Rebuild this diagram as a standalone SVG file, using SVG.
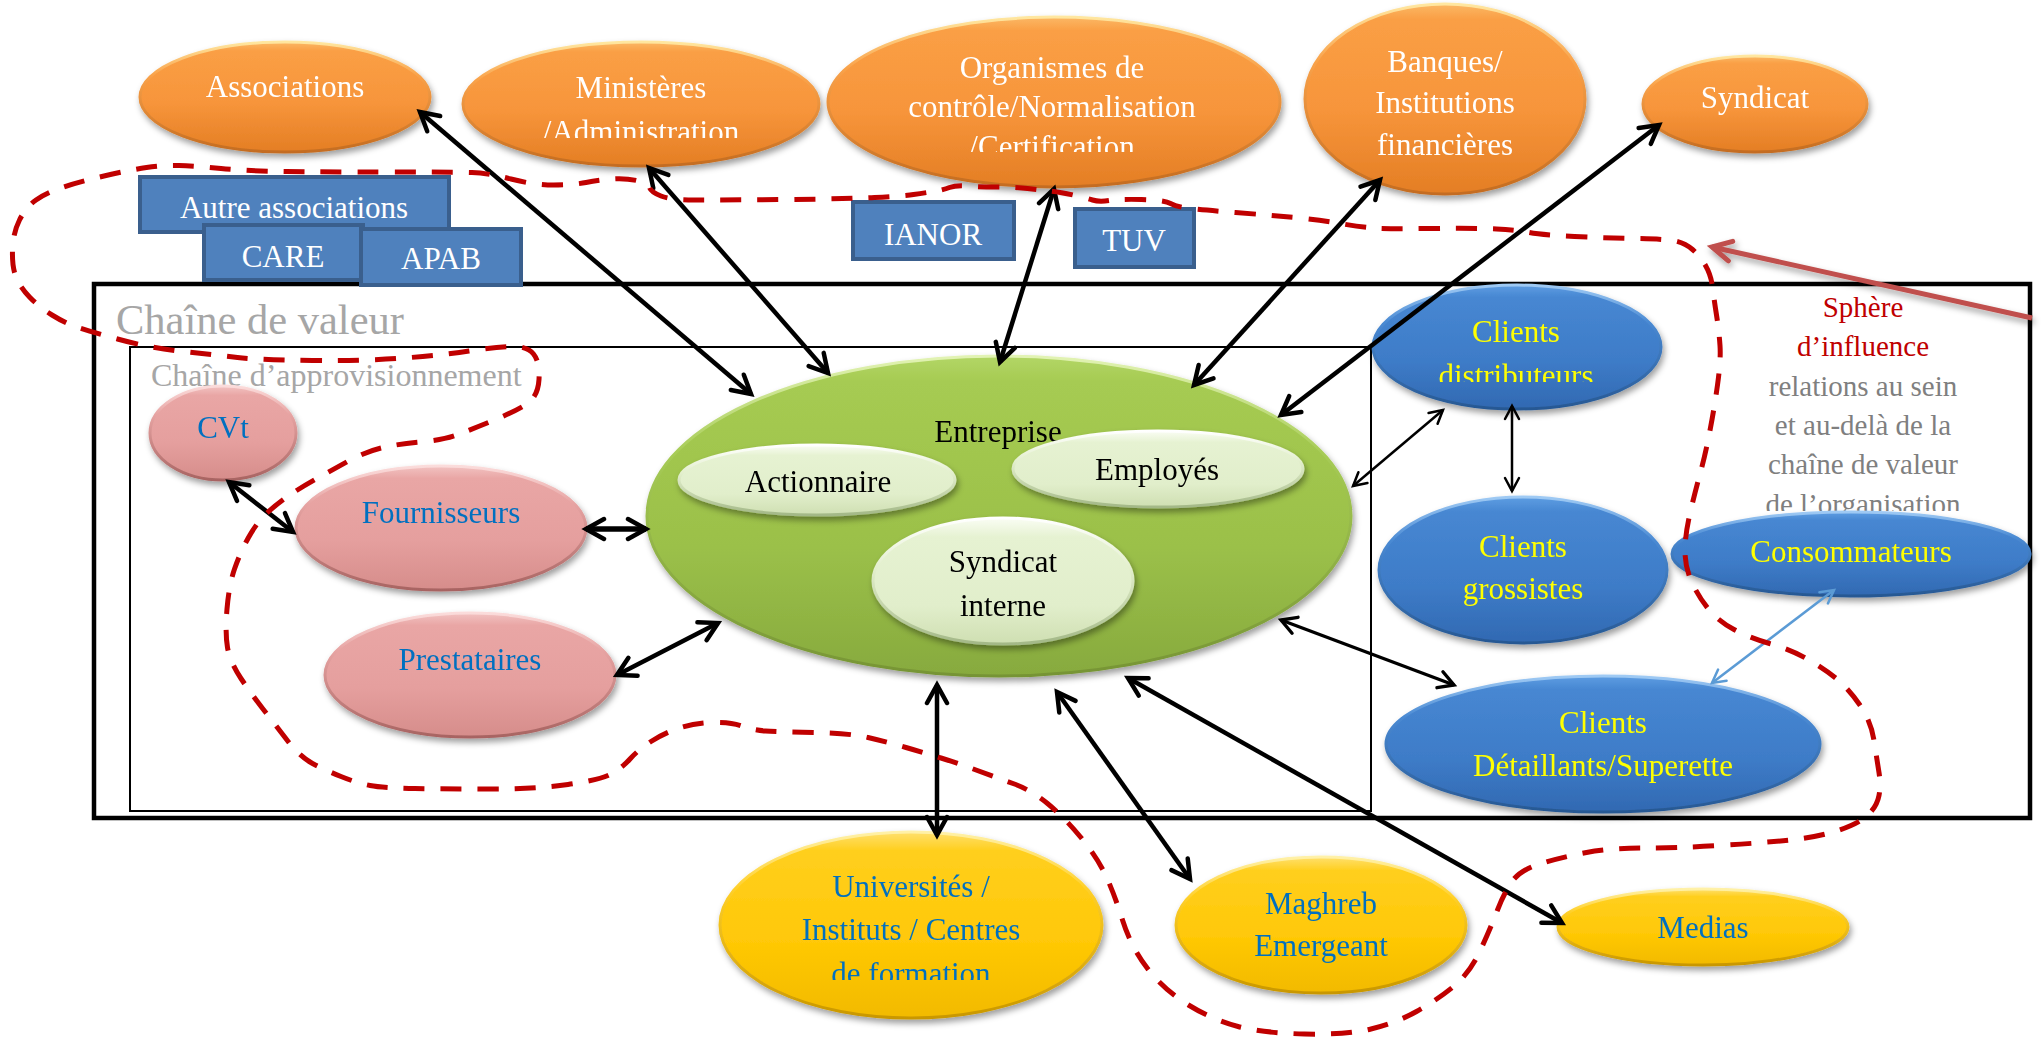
<svg xmlns="http://www.w3.org/2000/svg" width="2042" height="1038" viewBox="0 0 2042 1038">
  <defs>
    <style>
      .t { font-family: "Liberation Serif", "Times New Roman", serif; font-size: 31px; text-anchor: middle; }
      .s29 { font-size: 29px; }
      .w { fill: #FFFFFF; }
      .k { fill: #000000; }
      .bl { fill: #0070C0; }
      .ye { fill: #FFFF00; }
      .gr { fill: #A6A6A6; }
      .gr2 { fill: #7F7F7F; }
      .rd { fill: #C00000; }
      .sh { filter: url(#shadow); }
      .orange { fill: url(#fOrange); stroke: url(#sOrange); stroke-width: 3; }
      .green { fill: url(#fGreen); stroke: url(#sGreen); stroke-width: 3; }
      .light { fill: url(#fLight); stroke: url(#sLight); stroke-width: 3; }
      .pink { fill: url(#fPink); stroke: url(#sPink); stroke-width: 3; }
      .blue { fill: url(#fBlue); stroke: url(#sBlue); stroke-width: 3; }
      .yellow { fill: url(#fYellow); stroke: url(#sYellow); stroke-width: 3; }
      .tag { fill: #4F81BD; stroke: #3A5F8D; stroke-width: 4; }
      .c { fill: none; stroke: #000; stroke-width: 4.5; marker-start: url(#ah); marker-end: url(#ah); }
      .c5 { stroke-width: 5.5; }
      .thin { fill: none; stroke: #000; stroke-width: 2.5; marker-start: url(#ahThin); marker-end: url(#ahThin); }
      .mid { fill: none; stroke: #000; stroke-width: 3.4; marker-start: url(#ahMid); marker-end: url(#ahMid); }
      .cblue { fill: none; stroke: #5B9BD5; stroke-width: 2.5; marker-start: url(#ahBlue); marker-end: url(#ahBlue); }
    </style>

    <filter id="shadow" x="-20%" y="-20%" width="145%" height="160%">
      <feDropShadow dx="2" dy="4" stdDeviation="3" flood-color="#000" flood-opacity="0.38"/>
    </filter>

    <linearGradient id="fOrange" x1="0" y1="0" x2="0" y2="1">
      <stop offset="0" stop-color="#FBB865"/>
      <stop offset="0.08" stop-color="#FA9F45"/>
      <stop offset="0.55" stop-color="#F7953B"/>
      <stop offset="1" stop-color="#E47E24"/>
    </linearGradient>
    <linearGradient id="sOrange" x1="0" y1="0" x2="0" y2="1">
      <stop offset="0" stop-color="#FFE7A0"/>
      <stop offset="0.3" stop-color="#F9A24A"/>
      <stop offset="1" stop-color="#C46C20"/>
    </linearGradient>

    <linearGradient id="fGreen" x1="0" y1="0" x2="0" y2="1">
      <stop offset="0" stop-color="#B3D667"/>
      <stop offset="0.08" stop-color="#A6CB52"/>
      <stop offset="0.6" stop-color="#9BC049"/>
      <stop offset="1" stop-color="#87AA3E"/>
    </linearGradient>
    <linearGradient id="sGreen" x1="0" y1="0" x2="0" y2="1">
      <stop offset="0" stop-color="#E2F3B4"/>
      <stop offset="0.3" stop-color="#A7CC56"/>
      <stop offset="1" stop-color="#769434"/>
    </linearGradient>

    <linearGradient id="fLight" x1="0" y1="0" x2="0" y2="1">
      <stop offset="0" stop-color="#FAFDF4"/>
      <stop offset="0.15" stop-color="#E6F2D2"/>
      <stop offset="0.7" stop-color="#E1EECB"/>
      <stop offset="1" stop-color="#CFDFB2"/>
    </linearGradient>
    <linearGradient id="sLight" x1="0" y1="0" x2="0" y2="1">
      <stop offset="0" stop-color="#FFFFFF"/>
      <stop offset="0.4" stop-color="#E3EFCD"/>
      <stop offset="1" stop-color="#A3B887"/>
    </linearGradient>

    <linearGradient id="fPink" x1="0" y1="0" x2="0" y2="1">
      <stop offset="0" stop-color="#F2C3C2"/>
      <stop offset="0.1" stop-color="#E9A6A5"/>
      <stop offset="0.6" stop-color="#E59F9E"/>
      <stop offset="1" stop-color="#D68D8B"/>
    </linearGradient>
    <linearGradient id="sPink" x1="0" y1="0" x2="0" y2="1">
      <stop offset="0" stop-color="#FBDCDB"/>
      <stop offset="0.3" stop-color="#E7A4A3"/>
      <stop offset="1" stop-color="#A86462"/>
    </linearGradient>

    <linearGradient id="fBlue" x1="0" y1="0" x2="0" y2="1">
      <stop offset="0" stop-color="#5E9DE2"/>
      <stop offset="0.1" stop-color="#4787D2"/>
      <stop offset="0.6" stop-color="#3E7CC8"/>
      <stop offset="1" stop-color="#3169B2"/>
    </linearGradient>
    <linearGradient id="sBlue" x1="0" y1="0" x2="0" y2="1">
      <stop offset="0" stop-color="#9FCAF4"/>
      <stop offset="0.3" stop-color="#4A8AD3"/>
      <stop offset="1" stop-color="#275893"/>
    </linearGradient>

    <linearGradient id="fYellow" x1="0" y1="0" x2="0" y2="1">
      <stop offset="0" stop-color="#FFE06E"/>
      <stop offset="0.1" stop-color="#FFCF1E"/>
      <stop offset="0.6" stop-color="#FFC806"/>
      <stop offset="1" stop-color="#F2BA00"/>
    </linearGradient>
    <linearGradient id="sYellow" x1="0" y1="0" x2="0" y2="1">
      <stop offset="0" stop-color="#FFF1A8"/>
      <stop offset="0.3" stop-color="#FFD02A"/>
      <stop offset="1" stop-color="#C99700"/>
    </linearGradient>

    <!-- open arrowheads, tip on the line end -->
    <marker id="ah" viewBox="0 0 26 26" refX="21" refY="13" markerWidth="26" markerHeight="26" markerUnits="userSpaceOnUse" orient="auto-start-reverse">
      <path d="M3,3 L21,13 L3,23" fill="none" stroke="#000" stroke-width="4.5" stroke-linejoin="miter" stroke-linecap="round"/>
    </marker>
    <marker id="ahMid" viewBox="0 0 24 24" refX="19" refY="12" markerWidth="24" markerHeight="24" markerUnits="userSpaceOnUse" orient="auto-start-reverse">
      <path d="M4,3.5 L19,12 L4,20.5" fill="none" stroke="#000" stroke-width="3.4" stroke-linecap="round"/>
    </marker>
    <marker id="ahThin" viewBox="0 0 24 24" refX="19" refY="12" markerWidth="24" markerHeight="24" markerUnits="userSpaceOnUse" orient="auto-start-reverse">
      <path d="M6,5 L19,12 L6,19" fill="none" stroke="#000" stroke-width="2.5" stroke-linecap="round"/>
    </marker>
    <marker id="ahBlue" viewBox="0 0 24 24" refX="19" refY="12" markerWidth="24" markerHeight="24" markerUnits="userSpaceOnUse" orient="auto-start-reverse">
      <path d="M6,5 L19,12 L6,19" fill="none" stroke="#5B9BD5" stroke-width="2.5" stroke-linecap="round"/>
    </marker>
    <marker id="ahRed" viewBox="0 0 30 30" refX="24" refY="15" markerWidth="30" markerHeight="30" markerUnits="userSpaceOnUse" orient="auto">
      <path d="M5,5 L24,15 L5,25" fill="none" stroke="#C0504D" stroke-width="5" stroke-linecap="round"/>
    </marker>

    <!-- text boxes that cut their last line -->
    <clipPath id="cutAdm"><rect x="0" y="0" width="2042" height="138"/></clipPath>
    <clipPath id="cutCert"><rect x="0" y="0" width="2042" height="152"/></clipPath>
    <clipPath id="cutDist"><rect x="0" y="0" width="2042" height="382"/></clipPath>
    <clipPath id="cutOrg"><rect x="0" y="0" width="2042" height="511"/></clipPath>
    <clipPath id="cutForm"><rect x="0" y="0" width="2042" height="980"/></clipPath>
  </defs>

  <rect x="0" y="0" width="2042" height="1038" fill="#FFFFFF"/>

  <!-- value chain frames -->
  <g id="frames">
    <rect x="94" y="284" width="1936" height="534" fill="none" stroke="#000" stroke-width="4.5"/>
    <rect x="130" y="347" width="1241" height="464" fill="none" stroke="#000" stroke-width="2"/>
    <text class="t gr" x="116" y="334" style="font-size:42.5px;text-anchor:start">Chaîne de valeur</text>
    <text class="t gr" x="151" y="386" style="font-size:32px;text-anchor:start">Chaîne d’approvisionnement</text>
  </g>

  <!-- external stakeholders -->
  <g id="associations" class="sh">
    <ellipse class="orange" cx="285" cy="97" rx="145" ry="55"/>
    <text class="t w" x="285" y="97">Associations</text>
  </g>
  <g id="ministeres" class="sh">
    <ellipse class="orange" cx="641" cy="104" rx="178" ry="62"/>
    <text class="t w" x="641" y="98">Ministères</text>
    <text class="t w" x="641" y="142" clip-path="url(#cutAdm)">/Administration</text>
  </g>
  <g id="organismes" class="sh">
    <ellipse class="orange" cx="1054" cy="102" rx="226" ry="85"/>
    <text class="t w" x="1052" y="78">Organismes de</text>
    <text class="t w" x="1052" y="117">contrôle/Normalisation</text>
    <text class="t w" x="1052" y="157" clip-path="url(#cutCert)">/Certification</text>
  </g>
  <g id="banques" class="sh">
    <ellipse class="orange" cx="1445" cy="99" rx="140" ry="95"/>
    <text class="t w" x="1445" y="72">Banques/</text>
    <text class="t w" x="1445" y="113">Institutions</text>
    <text class="t w" x="1445" y="155">financières</text>
  </g>
  <g id="syndicat" class="sh">
    <ellipse class="orange" cx="1755" cy="104" rx="112" ry="48"/>
    <text class="t w" x="1755" y="108">Syndicat</text>
  </g>

  <g id="autre-associations">
    <rect class="tag" x="140" y="177" width="309" height="55"/>
    <text class="t w" x="294" y="218">Autre associations</text>
  </g>
  <g id="care">
    <rect class="tag" x="204" y="225" width="159" height="55"/>
    <text class="t w" x="283" y="267">CARE</text>
  </g>
  <g id="apab">
    <rect class="tag" x="361" y="229" width="160" height="56"/>
    <text class="t w" x="441" y="269">APAB</text>
  </g>
  <g id="ianor">
    <rect class="tag" x="853" y="202" width="161" height="57"/>
    <text class="t w" x="933" y="245">IANOR</text>
  </g>
  <g id="tuv">
    <rect class="tag" x="1075" y="209" width="119" height="58"/>
    <text class="t w" x="1134" y="251">TUV</text>
  </g>

  <!-- company core -->
  <g id="entreprise" class="sh">
    <ellipse class="green" cx="999" cy="516" rx="352" ry="160"/>
    <text class="t k" x="998" y="442">Entreprise</text>
  </g>
  <g id="actionnaire" class="sh">
    <ellipse class="light" cx="817" cy="480" rx="138" ry="35"/>
    <text class="t k" x="818" y="492">Actionnaire</text>
  </g>
  <g id="employes" class="sh">
    <ellipse class="light" cx="1158" cy="469" rx="145" ry="38"/>
    <text class="t k" x="1157" y="480">Employés</text>
  </g>
  <g id="syndicat-interne" class="sh">
    <ellipse class="light" cx="1003" cy="581" rx="130" ry="63"/>
    <text class="t k" x="1003" y="572">Syndicat</text>
    <text class="t k" x="1003" y="616">interne</text>
  </g>

  <!-- supply side -->
  <g id="cvt" class="sh">
    <ellipse class="pink" cx="223" cy="433" rx="73" ry="47"/>
    <text class="t bl" x="223" y="438">CVt</text>
  </g>
  <g id="fournisseurs" class="sh">
    <ellipse class="pink" cx="441" cy="528" rx="145" ry="62"/>
    <text class="t bl" x="441" y="523">Fournisseurs</text>
  </g>
  <g id="prestataires" class="sh">
    <ellipse class="pink" cx="470" cy="675" rx="145" ry="62"/>
    <text class="t bl" x="470" y="670">Prestataires</text>
  </g>

  <!-- sphere of influence caption -->
  <g id="sphere-label">
    <text class="t rd s29" x="1863" y="317">Sphère</text>
    <text class="t rd s29" x="1863" y="356">d’influence</text>
    <text class="t gr2 s29" x="1863" y="396">relations au sein</text>
    <text class="t gr2 s29" x="1863" y="435">et au-delà de la</text>
    <text class="t gr2 s29" x="1863" y="474">chaîne de valeur</text>
    <text class="t gr2 s29" x="1863" y="514" clip-path="url(#cutOrg)">de l’organisation</text>
  </g>

  <!-- customers -->
  <g id="clients-distributeurs" class="sh">
    <ellipse class="blue" cx="1517" cy="347" rx="144" ry="62"/>
    <text class="t ye" x="1516" y="342">Clients</text>
    <text class="t ye" x="1516" y="386" clip-path="url(#cutDist)">distributeurs</text>
  </g>
  <g id="clients-grossistes" class="sh">
    <ellipse class="blue" cx="1523" cy="570" rx="144" ry="73"/>
    <text class="t ye" x="1523" y="557">Clients</text>
    <text class="t ye" x="1523" y="599">grossistes</text>
  </g>
  <g id="consommateurs" class="sh">
    <ellipse class="blue" cx="1851" cy="554" rx="179" ry="42"/>
    <text class="t ye" x="1851" y="562">Consommateurs</text>
  </g>
  <g id="clients-detaillants" class="sh">
    <ellipse class="blue" cx="1603" cy="744" rx="217" ry="68"/>
    <text class="t ye" x="1603" y="733">Clients</text>
    <text class="t ye" x="1603" y="776">Détaillants/Superette</text>
  </g>

  <!-- outer partners -->
  <g id="universites" class="sh">
    <ellipse class="yellow" cx="911" cy="925" rx="191" ry="93"/>
    <text class="t bl" x="911" y="897">Universités /</text>
    <text class="t bl" x="911" y="940">Instituts / Centres</text>
    <text class="t bl" x="911" y="984" clip-path="url(#cutForm)">de formation</text>
  </g>
  <g id="maghreb" class="sh">
    <ellipse class="yellow" cx="1321" cy="925" rx="145" ry="68"/>
    <text class="t bl" x="1321" y="914">Maghreb</text>
    <text class="t bl" x="1321" y="956">Emergeant</text>
  </g>
  <g id="medias" class="sh">
    <ellipse class="yellow" cx="1703" cy="927" rx="145" ry="38"/>
    <text class="t bl" x="1703" y="938">Medias</text>
  </g>

  <!-- relations -->
  <g id="connectors">
    <line class="c" x1="420" y1="112" x2="751" y2="394"/>
    <line class="c" x1="649" y1="168" x2="828" y2="373"/>
    <line class="c" x1="1054" y1="189" x2="1000" y2="362"/>
    <line class="c" x1="1380" y1="180" x2="1194" y2="385"/>
    <line class="c" x1="1659" y1="125" x2="1281" y2="415"/>
    <line class="thin" x1="1443" y1="410" x2="1353" y2="486"/>
    <line class="thin" x1="1512" y1="406" x2="1512" y2="491"/>
    <line class="mid" x1="1281" y1="620" x2="1454" y2="685"/>
    <line class="cblue" x1="1834" y1="590" x2="1712" y2="683"/>
    <line class="c c5" x1="586" y1="529" x2="646" y2="529"/>
    <line class="c" x1="229" y1="482" x2="293" y2="532"/>
    <line class="c" x1="617" y1="675" x2="718" y2="623"/>
    <line class="c" x1="937" y1="685" x2="937" y2="835"/>
    <line class="c" x1="1057" y1="692" x2="1190" y2="879"/>
    <line class="c" x1="1128" y1="678" x2="1562" y2="923"/>
  </g>

  <!-- boundary of the sphere of influence -->
  <g id="sphere-boundary">
    <path fill="none" stroke="#C00000" stroke-width="5" stroke-dasharray="21 16" d="M117.5,339 Q150,348 182.5,351.5 Q215,355 237.5,357.5 Q260,360 312.5,360.5 Q365,361 404,358 Q443,355 469,351 Q495,347 511,346.5 Q527,346 533.5,354 Q540,362 539,379.5 Q538,397 526,404.5 Q514,412 492,421 Q470,430 456.5,435 Q443,440 420,442 Q397,444 381,448 Q365,452 348.5,461 Q332,470 316,479 Q300,488 289,495.5 Q278,503 267.5,512.5 Q257,522 248.5,537.5 Q240,553 234.5,569 Q229,585 227,609 Q225,633 227.5,647.5 Q230,662 241,678.5 Q252,695 263,709 Q274,723 287,740 Q300,757 312.5,763.5 Q325,770 341,776.5 Q357,783 370,785.5 Q383,788 415,788.5 Q447,789 491.5,789 Q536,789 568,784.5 Q600,780 611,774 Q622,768 630,759 Q638,750 651,741.5 Q664,733 679.5,728 Q695,723 713,722.5 Q731,722 742,726 Q753,730 765.5,731 Q778,732 813.5,732.5 Q849,733 868,737.5 Q887,742 906,747.5 Q925,753 941,758 Q957,763 976,770 Q995,777 1013,783.5 Q1031,790 1047.5,803.5 Q1064,817 1080.5,837 Q1097,857 1105.5,875 Q1114,893 1122.5,920 Q1131,947 1147.5,968.5 Q1164,990 1188.5,1005 Q1213,1020 1238,1026.5 Q1263,1033 1304.5,1034 Q1346,1035 1371,1029 Q1396,1023 1416.5,1011.5 Q1437,1000 1453.5,986.5 Q1470,973 1480.5,950 Q1491,927 1497.5,910 Q1504,893 1512,881.5 Q1520,870 1541,863.5 Q1562,857 1586.5,852.5 Q1611,848 1644.5,848 Q1678,848 1719.5,845.5 Q1761,843 1790,840 Q1819,837 1839.5,830 Q1860,823 1868.5,814.5 Q1877,806 1879,795.5 Q1881,785 1879,772.5 Q1877,760 1874,740.5 Q1871,721 1859.5,704.5 Q1848,688 1835,677.5 Q1822,667 1805.5,658 Q1789,649 1769.5,643.5 Q1750,638 1734,629.5 Q1718,621 1708,608.5 Q1698,596 1691.5,581.5 Q1685,567 1685,551 Q1685,535 1690,513.5 Q1695,492 1700,474 Q1705,456 1709.5,433 Q1714,410 1717.5,385 Q1721,360 1720,345.5 Q1719,331 1716.5,315 Q1714,299 1712.5,287 Q1711,275 1705.5,265.5 Q1700,256 1692.5,249.5 Q1685,243 1675.5,241 Q1666,239 1636.5,238.5 Q1607,238 1574.5,236.5 Q1542,235 1529,232.5 Q1516,230 1496.5,229 Q1477,228 1431.5,228.5 Q1386,229 1373,228 Q1360,227 1340,223.5 Q1320,220 1294,217.5 Q1268,215 1235.5,212.5 Q1203,210 1190,208.5 Q1177,207 1170.5,203.5 Q1164,200 1141.5,199.5 Q1119,199 1109,200.5 Q1099,202 1092.5,200 Q1086,198 1073,195 Q1060,192 1050.5,191 Q1041,190 1027.5,188.5 Q1014,187 996.5,187 Q979,187 967.5,186 Q956,185 949.5,187.5 Q943,190 933.5,191.5 Q924,193 913.5,194.5 Q903,196 874.5,197.5 Q846,199 781,199.5 Q716,200 693.5,200 Q671,200 661,196 Q651,192 649.5,187.5 Q648,183 636.5,180.5 Q625,178 612,179 Q599,180 586,182.5 Q573,185 553.5,185 Q534,185 511,179 Q488,173 472,172.5 Q456,172 391,172 Q326,172 286.5,171.5 Q247,171 221,168.5 Q195,166 179,165.5 Q163,165 146.5,167.5 Q130,170 104,176 Q78,182 62,187.5 Q46,193 36,200 Q26,207 19.5,220 Q13,233 12.5,250 Q12,267 16,277 Q20,287 29.5,297 Q39,307 52,315 Q65,323 75,326.5 Q85,330 117.5,339 Z"/>
    <line x1="2032" y1="318" x2="1712" y2="247" stroke="#C0504D" stroke-width="5" marker-end="url(#ahRed)" class="sh"/>
  </g>
</svg>
